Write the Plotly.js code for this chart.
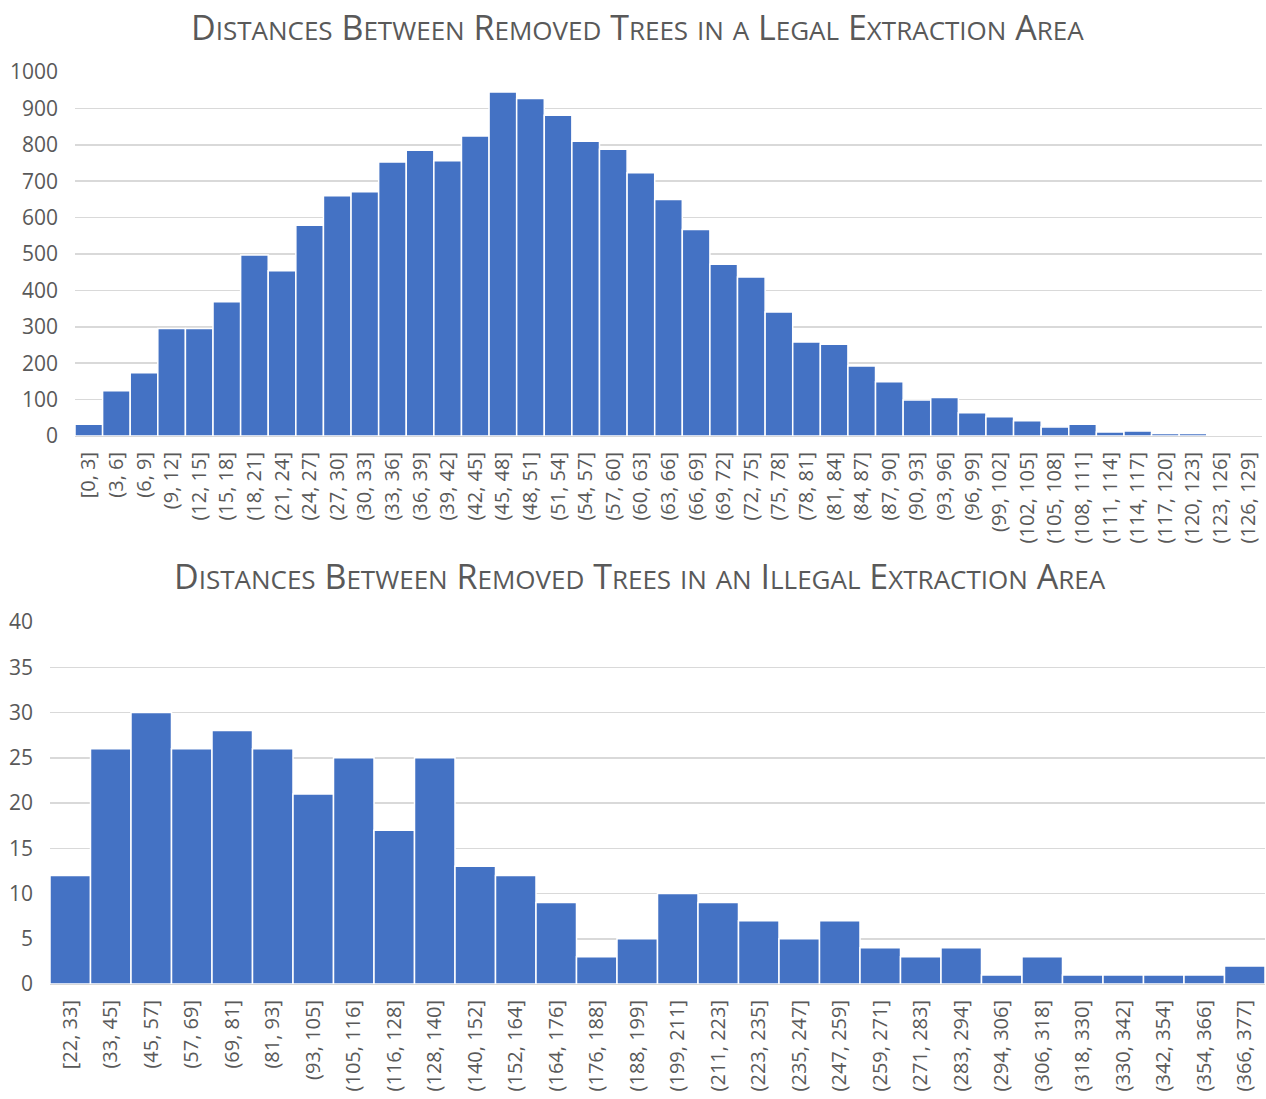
<!DOCTYPE html>
<html>
<head>
<meta charset="utf-8">
<script src="https://cdn.plot.ly/plotly-3.0.1.min.js"></script>
<style>html,body{margin:0;padding:0;background:#fff;}#chart{width:1266px;height:1099px;}</style>
</head>
<body>
<div id="chart"></div>
<script>
const legalBins = ["[0, 3]","(3, 6]","(6, 9]","(9, 12]","(12, 15]","(15, 18]","(18, 21]","(21, 24]","(24, 27]","(27, 30]","(30, 33]","(33, 36]","(36, 39]","(39, 42]","(42, 45]","(45, 48]","(48, 51]","(51, 54]","(54, 57]","(57, 60]","(60, 63]","(63, 66]","(66, 69]","(69, 72]","(72, 75]","(75, 78]","(78, 81]","(81, 84]","(84, 87]","(87, 90]","(90, 93]","(93, 96]","(96, 99]","(99, 102]","(102, 105]","(105, 108]","(108, 111]","(111, 114]","(114, 117]","(117, 120]","(120, 123]","(123, 126]","(126, 129]"];
const legalCounts = [32,124,174,295,295,369,497,454,579,660,671,753,785,756,824,945,927,881,810,788,723,650,567,472,437,341,258,252,192,149,99,106,64,53,42,25,32,11,14,7,7,4,1];

const illegalBins = ["[22, 33]","(33, 45]","(45, 57]","(57, 69]","(69, 81]","(81, 93]","(93, 105]","(105, 116]","(116, 128]","(128, 140]","(140, 152]","(152, 164]","(164, 176]","(176, 188]","(188, 199]","(199, 211]","(211, 223]","(223, 235]","(235, 247]","(247, 259]","(259, 271]","(271, 283]","(283, 294]","(294, 306]","(306, 318]","(318, 330]","(330, 342]","(342, 354]","(354, 366]","(366, 377]"];
const illegalCounts = [12,26,30,26,28,26,21,25,17,25,13,12,9,3,5,10,9,7,5,7,4,3,4,1,3,1,1,1,1,2];

const title1 = "Distances Between Removed Trees in a Legal Extraction Area";
const title2 = "Distances Between Removed Trees in an Illegal Extraction Area";

function smallCaps(s, small) {
  return s.split(" ").map(w => {
    const first = w.charAt(0);
    const rest = w.slice(1).toUpperCase();
    if (first === first.toUpperCase()) {
      return first + (rest ? '<span style="font-size:' + small + 'px">' + rest + '</span>' : '');
    }
    return '<span style="font-size:' + small + 'px">' + w.toUpperCase() + '</span>';
  }).join(" ");
}

const W = 1266, H = 1099;
const grey = "#595959";
const fontFam = "'Open Sans', 'Noto Sans', sans-serif";

const traces = [
  {type: "bar", x: legalBins, y: legalCounts, xaxis: "x", yaxis: "y",
   marker: {color: "#4472C4", line: {color: "#ffffff", width: 1.5}}},
  {type: "bar", x: illegalBins, y: illegalCounts, xaxis: "x2", yaxis: "y2",
   marker: {color: "#4472C4", line: {color: "#ffffff", width: 1.5}}}
];

const tickFont = {family: fontFam, size: 21, color: grey};
const xTickFont = {family: fontFam, size: 20, color: grey};

const layout = {
  width: W, height: H,
  margin: {l: 0, r: 0, t: 0, b: 0},
  paper_bgcolor: "#ffffff", plot_bgcolor: "#ffffff",
  showlegend: false,
  bargap: 0,
  xaxis: {domain: [75/W, 1262/W], anchor: "y", type: "category", tickangle: -90,
          tickfont: xTickFont, showgrid: false, showline: false, ticks: "", ticklabelstandoff: 11, fixedrange: true},
  yaxis: {domain: [(H-436)/H, (H-72)/H], anchor: "x", range: [0, 1000], dtick: 100,
          tickfont: tickFont, gridcolor: "#d9d9d9", gridwidth: 1.5, zeroline: true, zerolinecolor: "#d9d9d9", zerolinewidth: 1.5,
          showline: false, ticks: "", ticklabelstandoff: 16, fixedrange: true},
  xaxis2: {domain: [50/W, 1265/W], anchor: "y2", type: "category", tickangle: -90,
          tickfont: xTickFont, showgrid: false, showline: false, ticks: "", ticklabelstandoff: 11, fixedrange: true},
  yaxis2: {domain: [(H-984)/H, (H-622)/H], anchor: "x2", range: [0, 40], dtick: 5,
          tickfont: tickFont, gridcolor: "#d9d9d9", gridwidth: 1.5, zeroline: true, zerolinecolor: "#d9d9d9", zerolinewidth: 1.5,
          showline: false, ticks: "", ticklabelstandoff: 16, fixedrange: true},
  annotations: [
    {text: smallCaps(title1, 26), xref: "paper", yref: "paper", x: 637/W, y: (H-27)/H,
     xanchor: "center", yanchor: "middle", showarrow: false, font: {family: fontFam, size: 34, color: grey}},
    {text: smallCaps(title2, 26), xref: "paper", yref: "paper", x: 640/W, y: (H-576)/H,
     xanchor: "center", yanchor: "middle", showarrow: false, font: {family: fontFam, size: 34, color: grey}}
  ]
};

Plotly.newPlot("chart", traces, layout, {displayModeBar: false, staticPlot: true});
</script>
</body>
</html>
